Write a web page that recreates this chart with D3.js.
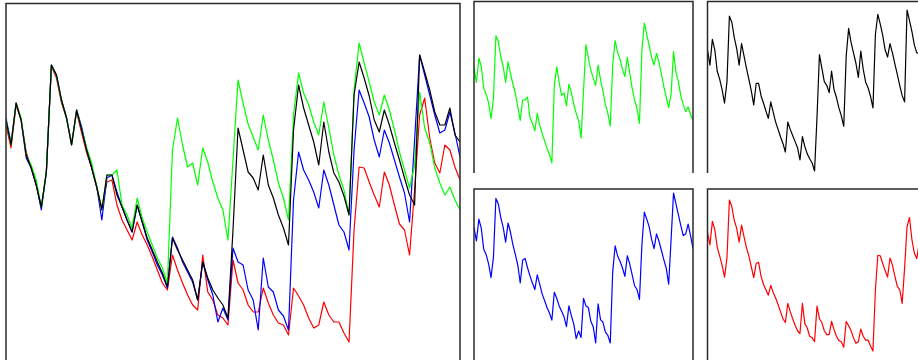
<!DOCTYPE html>
<html>
<head>
<meta charset="utf-8">
<script src="https://cdn.jsdelivr.net/npm/d3@7/dist/d3.min.js"></script>
<style>
  body { margin: 0; background: #fff; }
  svg { display: block; }
</style>
</head>
<body>
<div id="chart"></div>
<script>
// one value per time step, 91 steps
const steps = d3.range(91);

const green = [48, 43, 51.4, 48.4, 41, 39, 36, 30.6, 37.6, 59,
  57, 52, 48.4, 43, 50, 46, 42.4, 39.4, 34.6, 30,
  37, 37, 38, 31, 29, 26.4, 32.4, 28.4, 25.6, 23,
  20.4, 18.4, 15.4, 42, 48.4, 43, 38.6, 39.4, 35, 42.4,
  39.6, 35.6, 32.4, 30, 24, 40, 56, 51.4, 47.2, 44.6,
  42, 49, 44, 40, 35.4, 32.4, 28, 49, 57.4, 53.4,
  51, 47.6, 45, 51.6, 46.4, 41, 37, 34, 29, 54,
  63.4, 59.4, 55.6, 51.6, 49, 53, 50, 46, 41.6, 38,
  34.4, 39, 53.6, 46.4, 43.4, 38.4, 35.4, 33, 34.6, 32,
  30];

const black = [48, 43, 51.4, 48, 41, 38.4, 35, 30.6, 37.6, 59,
  57, 52, 48.4, 43, 50, 46, 42, 38.4, 34.6, 30,
  37, 37, 33, 30.6, 28, 25.6, 31, 27.6, 24.4, 22,
  19.6, 17.4, 14.6, 24.4, 22, 20, 18, 16, 12, 19.6,
  16.4, 14, 12.4, 11, 8.4, 26, 46.4, 42, 37.6, 36.4,
  34, 41, 35, 32.4, 29, 26.4, 23, 46, 55, 50.4,
  47, 43.6, 39, 47.6, 41.6, 37.4, 35.6, 32.8, 29, 53,
  59.6, 56.4, 52.8, 48, 45.6, 50, 47, 43.4, 40, 36.4,
  33, 31, 61, 57.6, 54, 49.6, 47, 47, 50.4, 45,
  43.6];

const blue = [48.4, 43.4, 51.4, 48, 40.4, 38.4, 35, 30, 37.6, 59,
  57, 52, 48.4, 43, 50, 46.6, 42, 38.4, 34.6, 28,
  36.4, 37, 33.6, 30.6, 28, 25.6, 31, 27.6, 24, 21.6,
  19, 17, 14.4, 24.6, 22.4, 19.6, 17.6, 15.6, 12, 19.6,
  16, 13, 7.6, 10.4, 8, 22.4, 19.6, 19, 14, 12,
  6, 20.4, 14.6, 13.6, 10, 8.8, 6, 32, 41.6, 38,
  36, 33.6, 30.4, 38, 35, 31, 27, 25.6, 22, 42,
  54, 51.4, 48.6, 44, 40.6, 46, 43.4, 40, 36.6, 33.4,
  27.6, 44, 61, 57, 53, 49, 45.4, 46, 49.6, 45.4,
  40.6];

const red = [47, 42.4, 51, 48, 41.6, 38.4, 35, 30.6, 37.6, 58.8,
  56.4, 51.4, 48.4, 43.4, 49.6, 45.4, 41.4, 38.4, 34.4, 30.4,
  35.6, 36, 31, 28, 26, 24, 27.6, 25, 23, 20.6,
  18, 15.4, 14, 21, 18, 15.4, 13, 11, 10, 21,
  13.6, 12, 9, 8.4, 7, 20, 15.4, 14, 11, 9.6,
  9.6, 14.4, 11.4, 9, 7.4, 7, 5, 14.4, 12.8, 11,
  8.4, 6.4, 7, 11.6, 9, 7.6, 7.6, 5.4, 3.6, 26,
  38.6, 38.4, 35.6, 33, 30.6, 37.6, 35, 31, 27.2, 26,
  21, 34, 49, 52.4, 44.4, 39.4, 37.4, 43, 42, 38.6,
  36];

const width = 918;
const height = 360;

const svg = d3.select('#chart')
  .append('svg')
  .attr('width', width)
  .attr('height', height);

let clipId = 0;

function panel(box, lines, yScale) {
  const x = d3.scaleLinear()
    .domain(d3.extent(steps))
    .range([box.left, box.right]);

  const id = 'clip' + (clipId++);
  svg.append('clipPath').attr('id', id)
    .append('rect')
    .attr('x', box.left).attr('y', box.top)
    .attr('width', box.right - box.left)
    .attr('height', box.bottom - box.top);

  const g = svg.append('g').attr('clip-path', `url(#${id})`);

  lines.forEach(s => {
    const line = d3.line()
      .x((d, i) => x(steps[i]))
      .y(d => yScale(d));

    g.append('path')
      .datum(s.values)
      .attr('fill', 'none')
      .attr('stroke', s.color)
      .attr('stroke-width', 1.2)
      .attr('stroke-linejoin', 'round')
      .attr('d', line);
  });

  // frame: the top row of small panels has no bottom edge
  const frame = box.open
    ? `M${box.left},${box.bottom}V${box.top}H${box.right}V${box.bottom}`
    : `M${box.left},${box.top}H${box.right}V${box.bottom}H${box.left}Z`;

  svg.append('path')
    .attr('d', frame)
    .attr('fill', 'none')
    .attr('stroke', '#2a2a2a')
    .attr('stroke-width', 1.5);
}

// big panel with every series
panel({ left: 6, right: 460, top: 3.5, bottom: 420 },
  [
    { values: red, color: '#ff0000' },
    { values: blue, color: '#0000ff' },
    { values: green, color: '#00ff00' },
    { values: black, color: '#000000' }
  ],
  d3.scaleLinear().domain([0, 72]).range([360, 0]));

// small panels, one series each, own y scale
panel({ left: 474, right: 693, top: 1.5, bottom: 173, open: true },
  [{ values: green, color: '#00ff00' }],
  d3.scaleLinear().domain(d3.extent(green)).range([163, 23]));

panel({ left: 707.5, right: 926.5, top: 1.5, bottom: 173, open: true },
  [{ values: black, color: '#000000' }],
  d3.scaleLinear().domain(d3.extent(black)).range([171, 10]));

panel({ left: 474, right: 693, top: 189, bottom: 420 },
  [{ values: blue, color: '#0000ff' }],
  d3.scaleLinear().domain(d3.extent(blue)).range([343, 193]));

panel({ left: 707.5, right: 926.5, top: 189, bottom: 420 },
  [{ values: red, color: '#ff0000' }],
  d3.scaleLinear().domain(d3.extent(red)).range([351, 200]));
</script>
</body>
</html>
